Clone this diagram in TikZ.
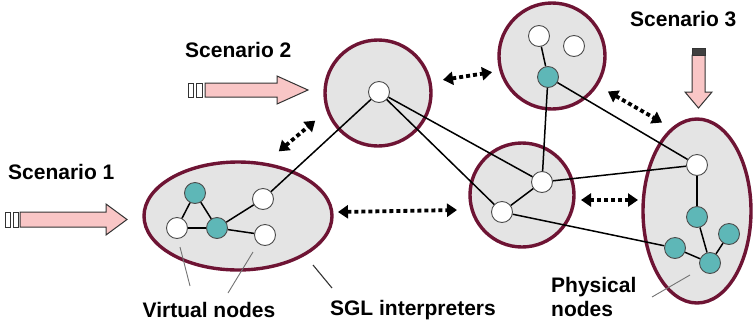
\documentclass[tikz,border=0pt]{standalone}
\usepackage{fontspec}
\setmainfont{Liberation Sans}
\usetikzlibrary{arrows.meta}
\definecolor{maroon}{HTML}{6E1434}
\definecolor{cellgray}{HTML}{E4E4E4}
\definecolor{tealn}{HTML}{5EB7B7}
\definecolor{pinkarr}{HTML}{F9C6C6}
\tikzset{
  region/.style={draw=maroon, line width=3.4pt, fill=cellgray},
  wnode/.style={circle, draw=black!70, line width=0.9pt, fill=white, minimum size=21pt, inner sep=0pt},
  tnode/.style={circle, draw=black!70, line width=0.9pt, fill=tealn, minimum size=21pt, inner sep=0pt},
  link/.style={line width=1.5pt, black},
  leader/.style={line width=0.9pt, black!55},
  dotarrow/.style={line width=3.8pt, dash pattern=on 4pt off 3pt, {Triangle[length=10pt,width=13pt]}-{Triangle[length=10pt,width=13pt]}, shorten <=1pt, shorten >=1pt},
  blockarr/.style={draw=black!80, line width=1pt, fill=pinkarr},
  lbl/.style={font=\bfseries\fontsize{21}{24}\selectfont, inner sep=0pt, align=left}
}
\begin{document}
\begin{tikzpicture}[x=1pt,y=-1pt]
\useasboundingbox (0,0) rectangle (755,330);
% regions
\draw[region] (238,216) ellipse [x radius=94, y radius=54];
\draw[region] (378,93) circle (53);
\draw[region] (552,56) circle (53);
\draw[region] (522,195) circle (52);
\draw[region] (697,211) ellipse [x radius=54, y radius=92];
% nodes ellipse 1
\node[tnode] (a1) at (195,193) {};
\node[wnode] (a2) at (177,228) {};
\node[tnode] (a3) at (217,228) {};
\node[wnode] (a4) at (263,199) {};
\node[wnode] (a5) at (265,235) {};
% circle 2
\node[wnode] (b1) at (379,92) {};
% circle 3
\node[wnode] (c1) at (539,36) {};
\node[wnode] (c2) at (574,46) {};
\node[tnode] (c3) at (548,77) {};
% circle 4
\node[wnode] (d1) at (542,182) {};
\node[wnode] (d2) at (502,212) {};
% right ellipse
\node[wnode] (e1) at (697,165) {};
\node[tnode] (e2) at (697,217) {};
\node[tnode] (e3) at (729,234) {};
\node[tnode] (e4) at (710,263) {};
\node[tnode] (e5) at (675,248) {};
% links
\draw[link] (a1) -- (a2);
\draw[link] (a1) -- (a3);
\draw[link] (a2) -- (a3);
\draw[link] (a3) -- (a4);
\draw[link] (a3) -- (a5);
\draw[link] (a4) -- (b1);
\draw[link] (b1) -- (d1);
\draw[link] (b1) -- (d2);
\draw[link] (d1) -- (d2);
\draw[link] (c1) -- (c3);
\draw[link] (c3) -- (d1);
\draw[link] (c3) -- (e1);
\draw[link] (d1) -- (e1);
\draw[link] (d2) -- (e5);
\draw[link] (e1) -- (e2);
\draw[link] (e2) -- (e4);
\draw[link] (e3) -- (e4);
\draw[link] (e5) -- (e4);
% dotted double arrows
\coordinate (p1a) at (278,152); \coordinate (p1b) at (316,120);
\coordinate (p2a) at (442,80); \coordinate (p2b) at (493,72);
\coordinate (p3a) at (607,91); \coordinate (p3b) at (663,123);
\coordinate (p4a) at (337,212); \coordinate (p4b) at (458,210);
\coordinate (p5a) at (580,200); \coordinate (p5b) at (639,200);
\draw[dotarrow] (p1a) -- (p1b);
\draw[dotarrow] (p2a) -- (p2b);
\draw[dotarrow] (p3a) -- (p3b);
\draw[dotarrow] (p4a) -- (p4b);
\draw[dotarrow] (p5a) -- (p5b);
% labels
\node[lbl, anchor=west] (s1) at (8,172) {Scenario 1};
\node[lbl, anchor=west] (s2) at (185,50) {Scenario 2};
\node[lbl, anchor=west] (s3) at (630,19) {Scenario 3};
\node[lbl] (vn) at (209,310) {Virtual nodes};
\node[lbl] (sgl) at (413,310) {SGL interpreters};
\node[lbl, anchor=west, align=left] (pn) at (551,297) {Physical\\nodes};
% leaders
\draw[leader] (180,247) -- (190,286);
\draw[leader] (253,252) -- (228,293);
\draw[line width=1.1pt, black!80] (313,265) -- (332,288);
\draw[leader] (690,275) -- (652,297);
% block arrows
\draw[blockarr] (20,212) -- (106,212) -- (106,204) -- (127,219.5) -- (106,235) -- (106,227) -- (20,227) -- cycle;
\draw[blockarr, fill=white] (5,212) rectangle (10,227);
\draw[blockarr, fill=white] (13,212) rectangle (18,227);
\draw[blockarr] (205,83) -- (277,83) -- (277,76) -- (308,90) -- (277,104) -- (277,97) -- (205,97) -- cycle;
\draw[blockarr, fill=white] (188,83) rectangle (193,97);
\draw[blockarr, fill=white] (196,83) rectangle (202,97);
\draw[blockarr] (692,55) -- (705,55) -- (705,92) -- (712,92) -- (698.5,108) -- (685,92) -- (692,92) -- cycle;
\draw[blockarr, fill=black!75] (692,48) rectangle (705,55);
\end{tikzpicture}
\end{document}
